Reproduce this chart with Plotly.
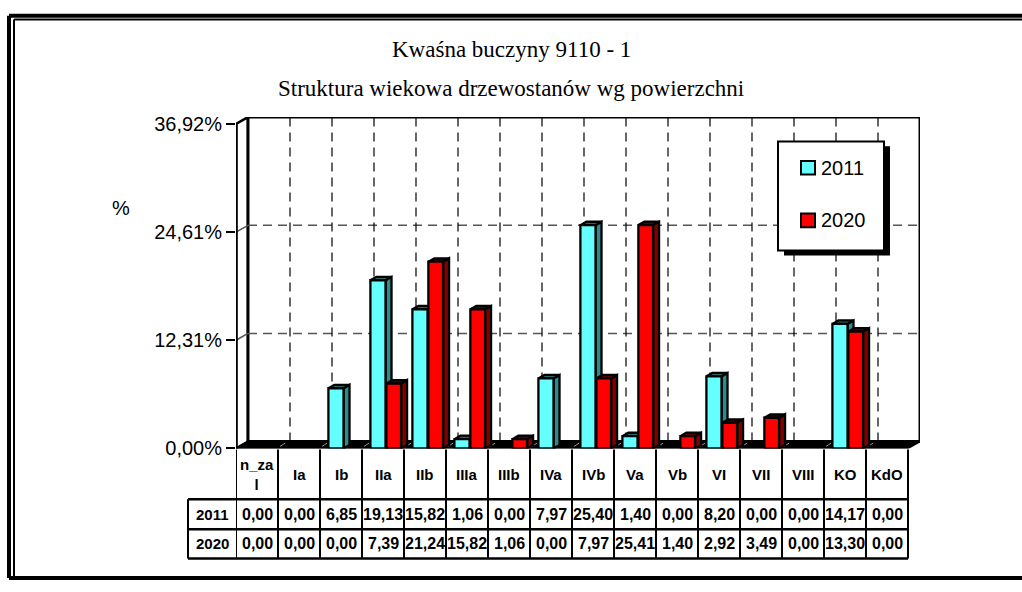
import plotly.graph_objects as go

# ---- data -------------------------------------------------------------
categories = ["n_zal", "Ia", "Ib", "IIa", "IIb", "IIIa", "IIIb", "IVa",
              "IVb", "Va", "Vb", "VI", "VII", "VIII", "KO", "KdO"]
values_2011 = [0.00, 0.00, 6.85, 19.13, 15.82, 1.06, 0.00, 7.97,
               25.40, 1.40, 0.00, 8.20, 0.00, 0.00, 14.17, 0.00]
values_2020 = [0.00, 0.00, 0.00, 7.39, 21.24, 15.82, 1.06, 0.00,
               7.97, 25.41, 1.40, 2.92, 3.49, 0.00, 13.30, 0.00]
series_names = ["2011", "2020"]
y_ticks = [0.00, 12.31, 24.61, 36.92]

title_lines = ["Kwaśna buczyny 9110 - 1",
               "Struktura wiekowa drzewostanów wg powierzchni"]

# ---- page geometry (pixels) -------------------------------------------
W, H = 1022, 592
SANS = "Liberation Sans, Arial, sans-serif"
SERIF = "Liberation Serif, Times New Roman, serif"


def fx(px):
    return px / W


def fy(py):
    return 1 - py / H


N = len(categories)
X_LEFT_PX = 236          # front-left corner of the floor
X_UNIT = 42.0            # pixels per category
Y_ZERO_PX = 456          # front edge of the floor
YMAX = y_ticks[-1]
Y_UNIT = 333.0 / YMAX    # pixels per percent
DX = 12.0 / X_UNIT       # oblique depth, in category units
DY = 7.0 / Y_UNIT        # oblique depth, in value units
BDX, BDY = DX / 2, DY / 2  # depth of a single column

x_right_px = X_LEFT_PX + X_UNIT * (N + DX)
y_top_px = Y_ZERO_PX - Y_UNIT * (YMAX + DY)


def fmt(v):
    return f"{v:.2f}".replace(".", ",")


def wrap(label, width=4):
    return label if len(label) <= width else label[:width] + "<br>" + label[width:]


# ---- 3D columns ------------------------------------------------------
series = [
    (values_2011, 0.20, 0.56, "#66FFFF", "#2E8B8B", "#1F6A6A"),
    (values_2020, 0.58, 0.93, "#FF0000", "#800000", "#5A0000"),
]

fig = go.Figure()
for vals, a, b, c_front, c_side, c_top in series:
    fx_, fy_, sx, sy, tx, ty = [], [], [], [], [], []
    for i, v in enumerate(vals):
        if v <= 0:
            continue
        x0, x1 = i + a, i + b
        fx_ += [x0, x1, x1, x0, x0, None]
        fy_ += [0, 0, v, v, 0, None]
        sx += [x1, x1 + BDX, x1 + BDX, x1, x1, None]
        sy += [0, BDY, v + BDY, v, 0, None]
        tx += [x0, x1, x1 + BDX, x0 + BDX, x0, None]
        ty += [v, v, v + BDY, v + BDY, v, None]
    for xs, ys, col in ((sx, sy, c_side), (tx, ty, c_top), (fx_, fy_, c_front)):
        fig.add_trace(go.Scatter(
            x=xs, y=ys, mode="lines", fill="toself", fillcolor=col,
            line=dict(color="black", width=2.3), hoverinfo="skip",
            showlegend=False))

shapes = []

# walls and floor
shapes.append(dict(type="path", xref="x", yref="y", layer="below",
                   path=f"M 0,0 L {DX},{DY} L {DX},{YMAX + DY} L 0,{YMAX} Z",
                   fillcolor="white", line=dict(color="black", width=2.5)))
shapes.append(dict(type="rect", xref="x", yref="y", layer="below",
                   x0=DX, y0=DY, x1=N + DX, y1=YMAX + DY,
                   fillcolor="white", line=dict(color="black", width=3)))
for t in y_ticks[1:-1]:
    shapes.append(dict(type="line", xref="x", yref="y", layer="below",
                       x0=DX, y0=t + DY, x1=N + DX, y1=t + DY,
                       line=dict(color="#555555", width=1.5, dash="9px,6px")))
    shapes.append(dict(type="line", xref="x", yref="y", layer="below",
                       x0=0, y0=t, x1=DX, y1=t + DY,
                       line=dict(color="#555555", width=1.5)))
for i in range(1, N):
    shapes.append(dict(type="line", xref="x", yref="y", layer="below",
                       x0=i + DX, y0=DY, x1=i + DX, y1=YMAX + DY,
                       line=dict(color="black", width=1.2, dash="9px,6px")))
shapes.append(dict(type="path", xref="x", yref="y", layer="below",
                   path=f"M 0,0 L {N},0 L {N + DX},{DY} L {DX},{DY} Z",
                   fillcolor="black", line=dict(color="black", width=1.5)))
for i in range(1, N):
    shapes.append(dict(type="line", xref="x", yref="y", layer="below",
                       x0=i + 0.05, y0=DY * 0.3, x1=i + DX * 0.6, y1=DY * 0.8,
                       line=dict(color="#999999", width=1)))
shapes.append(dict(type="line", xref="x", yref="y", layer="below",
                   x0=0, y0=0, x1=0, y1=YMAX,
                   line=dict(color="black", width=3.5)))

# ---- data table under the plot ------------------------------------------
ROW_LABEL_PX = 188
T_TOP, T_HEAD, T_R1, T_R2 = 457, 508, 539, 569
for i in range(N + 1):
    shapes.append(dict(type="line", xref="x", yref="paper",
                       x0=i, x1=i, y0=fy(T_TOP), y1=fy(T_R2),
                       line=dict(color="black", width=2)))
shapes.append(dict(type="line", xref="paper", yref="paper",
                   x0=fx(ROW_LABEL_PX), x1=fx(ROW_LABEL_PX),
                   y0=fy(T_HEAD), y1=fy(T_R2), line=dict(color="black", width=2)))
for yy in (T_HEAD, T_R1, T_R2):
    shapes.append(dict(type="line", xref="paper", yref="paper",
                       x0=fx(ROW_LABEL_PX), x1=fx(X_LEFT_PX + X_UNIT * N),
                       y0=fy(yy), y1=fy(yy), line=dict(color="black", width=2.5)))

annotations = []
for line, yy in zip(title_lines, (47, 87)):
    annotations.append(dict(text=line, xref="paper", yref="paper",
                            x=fx(511), y=fy(yy), xanchor="center", yanchor="middle",
                            showarrow=False, font=dict(family=SERIF, size=23, color="black")))
annotations.append(dict(text="%", xref="paper", yref="paper", x=fx(121), y=fy(209),
                        xanchor="center", yanchor="middle", showarrow=False,
                        font=dict(family=SANS, size=20, color="black")))

for i, cat in enumerate(categories):
    annotations.append(dict(text=f"<b>{wrap(cat)}</b>", xref="x", yref="paper",
                            x=i + 0.5, y=fy(483), xanchor="center", yanchor="middle",
                            showarrow=False,
                            font=dict(family=SANS, size=15, color="black")))
for vals, name, yc in ((values_2011, series_names[0], 524),
                       (values_2020, series_names[1], 554)):
    annotations.append(dict(text=f"<b>{name}</b>", xref="paper", yref="paper",
                            x=fx(212), y=fy(yc), xanchor="center", yanchor="middle",
                            showarrow=False,
                            font=dict(family=SANS, size=15, color="black")))
    for i, v in enumerate(vals):
        annotations.append(dict(text=f"<b>{fmt(v)}</b>", xref="x", yref="paper",
                                x=i + 0.5, y=fy(yc), xanchor="center", yanchor="middle",
                                showarrow=False,
                                font=dict(family=SANS, size=16, color="black")))

# ---- legend box ----------------------------------------------------------
LG_L, LG_T, LG_R, LG_B = 778, 141, 884, 253
shapes.append(dict(type="rect", xref="paper", yref="paper", layer="above",
                   x0=fx(LG_L + 6), y0=fy(LG_B + 5), x1=fx(LG_R + 6), y1=fy(LG_T + 5),
                   fillcolor="black", line=dict(width=0)))
shapes.append(dict(type="rect", xref="paper", yref="paper", layer="above",
                   x0=fx(LG_L), y0=fy(LG_B), x1=fx(LG_R), y1=fy(LG_T),
                   fillcolor="white", line=dict(color="black", width=2)))
for name, col, yc in ((series_names[0], series[0][3], 168),
                      (series_names[1], series[1][3], 222)):
    shapes.append(dict(type="rect", xref="paper", yref="paper", layer="above",
                       x0=fx(801), y0=fy(yc + 7), x1=fx(815), y1=fy(yc - 7),
                       fillcolor=col, line=dict(color="black", width=2)))
    annotations.append(dict(text=name, xref="paper", yref="paper", x=fx(819), y=fy(yc),
                            xanchor="left", yanchor="middle", showarrow=False,
                            font=dict(family=SANS, size=20, color="black")))

# ---- outer double frame -------------------------------------------------
frame = [
    (9, 12, 9, 589, 4), (9, 12, W + 5, 12, 4), (9, 589, W + 5, 589, 4),
    (14, 16, 14, 589, 2), (14, 16, W + 5, 16, 2),
]
for x0, y0, x1, y1, w in frame:
    shapes.append(dict(type="line", xref="paper", yref="paper", layer="above",
                       x0=fx(x0), y0=fy(y0), x1=fx(x1), y1=fy(y1),
                       line=dict(color="black", width=w)))

fig.update_layout(
    width=W, height=H, autosize=False,
    margin=dict(l=0, r=0, t=0, b=0),
    paper_bgcolor="white", plot_bgcolor="rgba(0,0,0,0)",
    showlegend=False,
    shapes=shapes, annotations=annotations,
    xaxis=dict(domain=[fx(X_LEFT_PX), fx(x_right_px)], range=[0, N + DX],
               visible=False, fixedrange=True),
    yaxis=dict(domain=[fy(Y_ZERO_PX), fy(y_top_px)], range=[0, YMAX + DY],
               tickvals=y_ticks, ticktext=[fmt(t) + "%" for t in y_ticks],
               ticks="outside", ticklen=9, tickwidth=2, tickcolor="black",
               tickfont=dict(family=SANS, size=20, color="black"),
               showgrid=False, zeroline=False, showline=False, fixedrange=True),
)

fig.write_html("out.html")
